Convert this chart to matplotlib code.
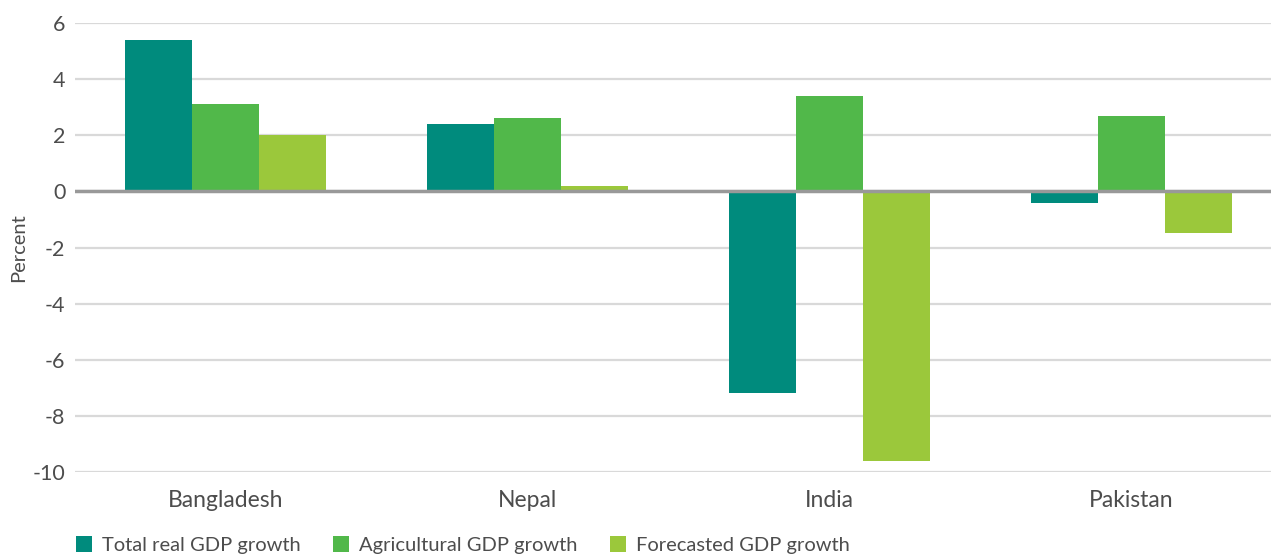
import matplotlib.pyplot as plt
import numpy as np

countries = ["Bangladesh", "Nepal", "India", "Pakistan"]
total_gdp = [5.4, 2.4, -7.2, -0.4]
agri_gdp = [3.1, 2.6, 3.4, 2.7]
forecast_gdp = [2.0, 0.2, -9.6, -1.5]
series_names = ["Total real GDP growth", "Agricultural GDP growth", "Forecasted GDP growth"]
colors = ["#008b7d", "#51b84a", "#9bc83b"]
yticks = [6, 4, 2, 0, -2, -4, -6, -8, -10]

plt.rcParams['font.family'] = ['Lato', 'DejaVu Sans']

fig = plt.figure(figsize=(12.71, 5.54), dpi=100)
ax = fig.add_axes([75/1271, 1-472/554, 1-75/1271, (472-23)/554])

x = np.arange(len(countries))
w = 0.222
for i, (vals, name, c) in enumerate(zip([total_gdp, agri_gdp, forecast_gdp], series_names, colors)):
    ax.bar(x + (i-1)*w, vals, width=w, color=c, label=name, zorder=3)

ax.set_ylim(-10, 6)
ax.set_xlim(-0.5, (1271-225)/302)
ax.set_yticks(yticks)
ax.set_yticklabels([str(t) for t in yticks])
ax.set_xticks(x)
ax.set_xticklabels(countries)
ax.yaxis.grid(True, color="#d9d9d9", linewidth=1.6, zorder=0)
ax.axhline(0, color="#999999", linewidth=2.5, zorder=4)
for s in ax.spines.values():
    s.set_visible(False)
ax.tick_params(axis='both', length=0, colors="#4d4d4d")
ax.tick_params(axis='x', pad=13, labelsize=16.5)
ax.tick_params(axis='y', pad=7, labelsize=15.5)
ax.set_ylabel("Percent", fontsize=14.5, color="#4d4d4d")
ax.yaxis.set_label_coords(-48/1196, 0.5)

ax.legend(loc='upper left', bbox_to_anchor=(-0.006, -0.125), ncol=3, frameon=False,
          fontsize=14.5, handlelength=0.8, handleheight=0.8, handletextpad=0.5,
          columnspacing=1.6, labelcolor="#4d4d4d", borderaxespad=0)

fig.savefig("out.png", dpi=100)
